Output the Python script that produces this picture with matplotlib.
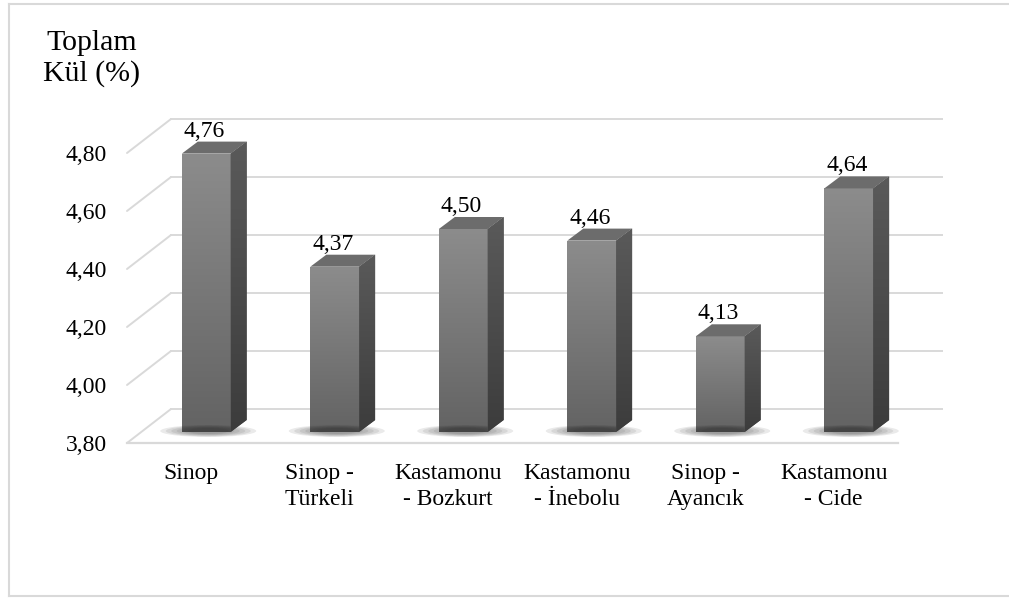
import numpy as np
import matplotlib
matplotlib.use("Agg")
import matplotlib.pyplot as plt
from matplotlib.patches import Polygon, Ellipse, ConnectionPatch
from matplotlib.lines import Line2D
import matplotlib.transforms as mtransforms
from matplotlib.colors import LinearSegmentedColormap

# ---------------- data ----------------
categories = ["Sinop", "Sinop -\nTürkeli", "Kastamonu\n- Bozkurt",
              "Kastamonu\n- İnebolu", "Sinop -\nAyancık", "Kastamonu\n- Cide"]
values = [4.76, 4.37, 4.50, 4.46, 4.13, 4.64]
value_labels = ["4,76", "4,37", "4,50", "4,46", "4,13", "4,64"]
yticks = [3.80, 4.00, 4.20, 4.40, 4.60, 4.80]
ytick_labels = ["3,80", "4,00", "4,20", "4,40", "4,60", "4,80"]
y_title = "Toplam\nKül (%)"

# ---------------- layout / style ----------------
W, H = 1009, 599
FONT = "Liberation Serif"
GRID = "#d9d9d9"
fig = plt.figure(figsize=(W / 100, H / 100), dpi=100)

ax_left, ax_right = 127, 898      # floor front edge (pixels)
base_px = 443                      # floor front edge y (pixels from top)
px_per_unit = 290
ymin, ymax = 3.8, 4.9
ax_top = base_px - (ymax - ymin) * px_per_unit
ax = fig.add_axes([ax_left / W, (H - base_px) / H,
                   (ax_right - ax_left) / W, (base_px - ax_top) / H])
ax.set_xlim(-0.5, len(categories) - 0.5)
ax.set_ylim(ymin, ymax)
for s in ax.spines.values():
    s.set_visible(False)
ax.patch.set_visible(False)
ax.set_yticks(yticks)
ax.set_yticklabels(ytick_labels, fontfamily=FONT, fontsize=17)
ax.set_xticks(range(len(categories)))
ax.set_xticklabels(categories, fontfamily=FONT, fontsize=17, linespacing=1.32)
ax.tick_params(axis="y", length=0, pad=14.4)
ax.tick_params(axis="x", length=0, pad=14.5)


def off(dx, dy):
    return ax.transData + mtransforms.ScaledTranslation(dx / 100, dy / 100, fig.dpi_scale_trans)


back_t = off(44, 34)        # back wall
front_bar_t = off(15, 11)   # bar front faces
back_bar_t = off(31, 23)    # bar back faces
ident = mtransforms.IdentityTransform()
x0, x1 = -0.5, len(categories) - 0.5

# gridlines: back wall + left diagonals
for v in yticks:
    ax.plot([x0, x1], [v, v], transform=back_t, color=GRID, lw=1.4, zorder=1, clip_on=False)
    cp = ConnectionPatch(xyA=(x0, v), coordsA=ax.transData, xyB=(x0, v), coordsB=back_t,
                         color=GRID, lw=1.4, zorder=1)
    ax.add_artist(cp)
# floor front edge
ax.plot([x0, x1], [ymin, ymin], transform=ax.transData, color=GRID, lw=1.6, zorder=1, clip_on=False)

front_cmap = LinearSegmentedColormap.from_list("f", ["#636363", "#8c8c8c"])
side_cmap = LinearSegmentedColormap.from_list("s", ["#3c3c3c", "#5a5a5a"])
grad = np.linspace(0, 1, 256).reshape(-1, 1)

width = 0.38
fig.canvas.draw()
for i, (v, lab) in enumerate(zip(values, value_labels)):
    xl, xr = i - width / 2, i + width / 2
    # soft shadow at the base
    cx, cy = front_bar_t.transform((i, ymin))
    for k in range(6):
        e = Ellipse((cx + 2, cy + 1), 96 - 11 * k, 12 - 1.2 * k, transform=ident,
                    facecolor="#202020", edgecolor="none", alpha=0.09, zorder=2)
        fig.add_artist(e)
    # front face
    bars = ax.bar([i], [v - ymin], bottom=ymin, width=width, transform=front_bar_t,
                  color="#777777", edgecolor="none", zorder=4)
    rect = bars[0]
    im = ax.imshow(grad, cmap=front_cmap, origin="lower", aspect="auto",
                   extent=(xl, xr, ymin, v), transform=front_bar_t, zorder=4.1)
    im.set_clip_path(rect)
    # side face
    fb = front_bar_t.transform([(xr, ymin), (xr, v)])
    bb = back_bar_t.transform([(xr, v), (xr, ymin)])
    side = Polygon(np.vstack([fb, bb]), closed=True, transform=ident,
                   facecolor="#4e4e4e", edgecolor="none", zorder=4)
    fig.add_artist(side)
    pts = np.vstack([fb, bb])
    ext = (pts[:, 0].min(), pts[:, 0].max(), pts[:, 1].min(), pts[:, 1].max())
    im2 = fig.add_artist(matplotlib.image.AxesImage(ax, cmap=side_cmap, origin="lower",
                                                     extent=ext, transform=ident, zorder=4.1))
    im2.set_data(grad)
    im2.set_clip_path(side)
    # top face
    tf = front_bar_t.transform([(xl, v), (xr, v)])
    tb = back_bar_t.transform([(xr, v), (xl, v)])
    top = Polygon(np.vstack([tf, tb]), closed=True, transform=ident,
                  facecolor="#6c6c6c", edgecolor="none", zorder=4.2)
    fig.add_artist(top)
    # value label
    ax.text(i, v, lab, transform=off(13, 28), ha="center", va="baseline",
            fontfamily=FONT, fontsize=17, zorder=6)

# title
fig.text(92 / W, 1 - 30 / H, y_title, ha="center", va="top", fontfamily=FONT,
         fontsize=21.5, linespacing=1.2)

# outer border (left, top, bottom)
bx0, by0, by1 = 8.5 / W, 3.5 / H, 1 - 3.5 / H
for xs, ys in [([bx0, 1.01], [by1, by1]), ([bx0, 1.01], [by0, by0]), ([bx0, bx0], [by0, by1])]:
    fig.add_artist(Line2D(xs, ys, transform=fig.transFigure, color=GRID, lw=1.5, zorder=0))

fig.savefig("out.png", dpi=100)
